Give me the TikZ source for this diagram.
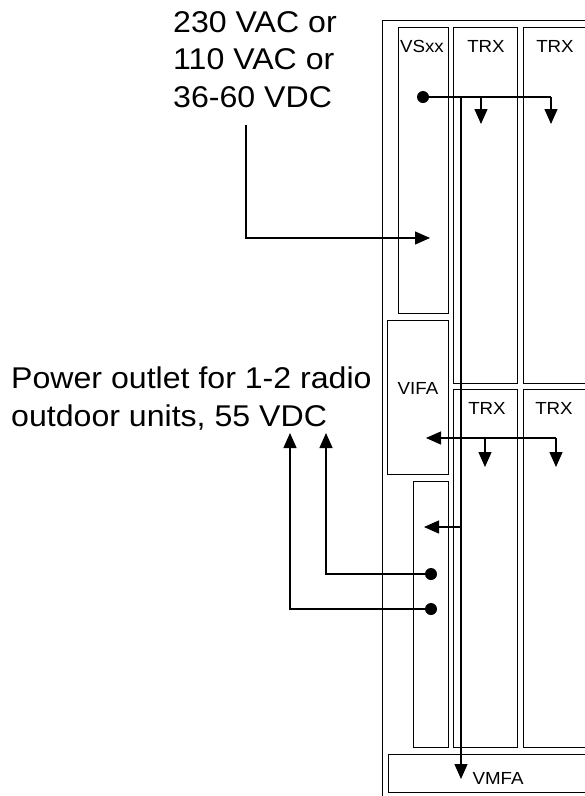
\documentclass[tikz,border=0pt]{standalone}
\usepackage{fontspec}
\setmainfont{Liberation Sans}[FakeStretch=1.07]
\usetikzlibrary{arrows.meta}
\begin{document}
\begin{tikzpicture}[x=1pt,y=-1pt,
  box/.style={draw=black, line width=0.9pt, inner sep=0pt, anchor=north west},
  frame/.style={draw=black, line width=1.1pt, inner sep=0pt, anchor=north west},
  lbl/.style={font=\fontsize{17.5}{20}\selectfont, inner sep=0pt},
  bigtxt/.style={font=\fontsize{30}{37.5}\selectfont, inner sep=0pt, align=left, anchor=base west},
  conn/.style={draw=black, line width=1.3pt},
  arr/.style={conn, -{Triangle[length=15pt,width=13pt]}},
  dot/.style={circle, fill=black, inner sep=0pt, minimum size=12pt}]
\useasboundingbox (0,0) rectangle (585,796);
\begin{scope}
\clip (0,0) rectangle (585,796);
% outer frame
\node[frame, minimum width=240pt, minimum height=800pt] (outer) at (382,20) {};
% boxes
\node[box, minimum width=50pt, minimum height=286pt] (vsxx) at (398,27) {};
\node[box, minimum width=64pt, minimum height=356pt] (trxa) at (453,27) {};
\node[box, minimum width=80pt, minimum height=356pt] (trxb) at (523,27) {};
\node[box, minimum width=61pt, minimum height=154pt] (vifa) at (387,320) {};
\node[box, minimum width=64pt, minimum height=358pt] (trxc) at (453,389) {};
\node[box, minimum width=80pt, minimum height=358pt] (trxd) at (523,389) {};
\node[box, minimum width=35pt, minimum height=266pt] (psu) at (413,481) {};
\node[box, minimum width=215pt, minimum height=38pt] (vmfa) at (388,754) {};
% labels
\node[lbl] (lvsxx) at (422,46) {VSxx};
\node[lbl] (ltrxa) at (486,46) {TRX};
\node[lbl] (ltrxb) at (555,46) {TRX};
\node[lbl] (lvifa) at (418,388) {VIFA};
\node[lbl] (ltrxc) at (487,408) {TRX};
\node[lbl] (ltrxd) at (554,408) {TRX};
\node[lbl] (lvmfa) at (498,778) {VMFA};
% texts (base anchor = baseline of the last line)
\node[bigtxt] (supply) at (173,107) {230 VAC or\\110 VAC or\\36-60 VDC};
\node[bigtxt] (outlet) at (11,426) {Power outlet for 1-2 radio\\outdoor units, 55 VDC};
% coordinates
\coordinate (inA) at (246,125);
\coordinate (inB) at (246,238);
\coordinate (inC) at (430,238);
\coordinate (d1) at (423,97);
\coordinate (bt) at (461,97);
\coordinate (h1) at (481,97);
\coordinate (h1e) at (481,124);
\coordinate (h2) at (551,97);
\coordinate (h2e) at (551,124);
\coordinate (bb) at (461,779);
\coordinate (v0) at (556,438);
\coordinate (v1) at (426,438);
\coordinate (v2) at (485,438);
\coordinate (v2e) at (485,467);
\coordinate (v3e) at (556,467);
\coordinate (bm) at (461,527);
\coordinate (bme) at (424,527);
\coordinate (p1) at (431,574);
\coordinate (p1c) at (326,574);
\coordinate (p1e) at (326,433);
\coordinate (p2) at (431,609);
\coordinate (p2c) at (290,609);
\coordinate (p2e) at (290,433);
% connectors
\draw[arr] (inA) -- (inB) -- (inC);
\draw[conn] (d1) -- (h2);
\draw[arr] (h1) -- (h1e);
\draw[arr] (h2) -- (h2e);
\draw[arr] (bt) -- (bb);
\draw[arr] (v0) -- (v1);
\draw[arr] (v2) -- (v2e);
\draw[arr] (v0) -- (v3e);
\draw[arr] (bm) -- (bme);
\draw[arr] (p1) -- (p1c) -- (p1e);
\draw[arr] (p2) -- (p2c) -- (p2e);
\node[dot] (dot1) at (d1) {};
\node[dot] (dot2) at (p1) {};
\node[dot] (dot3) at (p2) {};
\end{scope}
\end{tikzpicture}
\end{document}
